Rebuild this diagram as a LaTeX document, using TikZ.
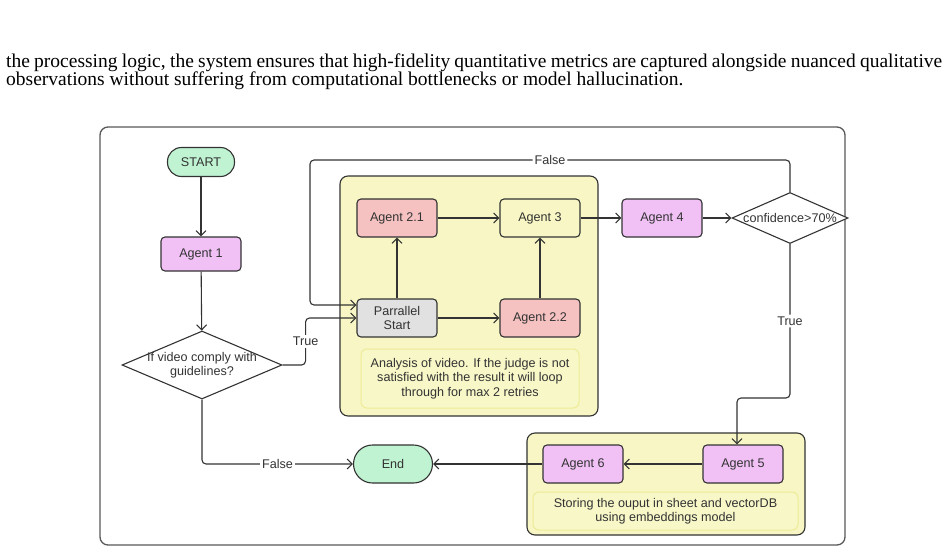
\documentclass[tikz,border=0pt]{standalone}
\usepackage{fontspec}
\setmainfont{Liberation Serif}
\newfontfamily\flowfont{Liberation Sans}
\usetikzlibrary{shapes.geometric,arrows.meta}
\definecolor{mint}{HTML}{BFF3D2}
\definecolor{lilac}{HTML}{F1C1F6}
\definecolor{rose}{HTML}{F5C1C1}
\definecolor{pale}{HTML}{F7F6C4}
\definecolor{notefill}{HTML}{F8F7C8}
\definecolor{noteline}{HTML}{EEEC96}
\definecolor{greybox}{HTML}{E1E1E1}
\definecolor{ink}{HTML}{333333}
\tikzset{
  flowtext/.style={font=\flowfont\fontsize{12.6}{14.5}\selectfont, text=ink, align=center},
  agent/.style={flowtext, draw=ink, line width=1.1pt, rounded corners=4pt, minimum width=80pt, minimum height=38pt, inner sep=0pt},
  term/.style={agent, fill=mint, rounded corners=14pt, minimum width=67pt, minimum height=29pt},
  decide/.style={draw=ink, line width=1.1pt, diamond, fill=white, inner sep=0pt},
  note/.style={flowtext, fill=notefill, draw=noteline, line width=1pt, rounded corners=6pt, inner sep=0pt},
  group/.style={draw=ink, line width=1.1pt, fill=pale, rounded corners=8pt},
  conn/.style={draw=ink, line width=1.1pt, rounded corners=4pt, -{Straight Barb[length=5pt,width=10pt]}},
  cond/.style={flowtext, fill=white, inner sep=2pt}
}

\begin{document}
\begin{tikzpicture}[x=1pt,y=-1pt]
    \useasboundingbox[fill=white] (0,0) rectangle (948,554);
    \node[anchor=north west, text width=936pt, align=justify, inner sep=0pt, font=\fontsize{19.5}{18}\selectfont] (intro) at (6,54) {\hyphenpenalty=10000\spaceskip=0.25em plus 0.1em minus 0.13em the processing logic, the system ensures that high-fidelity quantitative metrics are captured alongside nuanced qualitative\linebreak observations without suffering from computational bottlenecks or model hallucination.};

    % frame and the two groups
    \draw[draw=black!65, line width=1.3pt, rounded corners=8pt] (100,127) rectangle (845,545);
    \draw[group] (340,176) rectangle (598,416); \draw[group] (527,433) rectangle (805,535);

    \node[term] (start) at (201,162) {START};
    \node[agent, fill=lilac, minimum height=34pt] (a1) at (201,254) {Agent 1};
    \node[decide, minimum width=160pt, minimum height=68pt, label={[flowtext]center:If video comply with\\guidelines?}] (q1) at (202,365) {};

    \node[agent, fill=rose] (a21) at (397,218) {Agent 2.1};
    \node[agent, fill=pale] (a3) at (540,218) {Agent 3};
    \node[agent, fill=greybox] (ps) at (397,318) {Parrallel\\Start};
    \node[agent, fill=rose] (a22) at (540,318) {Agent 2.2};
    \node[note, minimum width=218pt, minimum height=59pt] (note1) at (470,378.5) {Analysis of video. If the judge is not\\satisfied with the result it will loop\\through for max 2 retries};

    \node[agent, fill=lilac] (a4) at (662,218) {Agent 4};
    \node[decide, minimum width=116pt, minimum height=51pt, label={[flowtext]center:confidence>70\%}] (q2) at (790,218) {};

    \node[agent, fill=lilac] (a5) at (743,464) {Agent 5};
    \node[agent, fill=lilac] (a6) at (583,464) {Agent 6};
    \node[note, minimum width=265pt, minimum height=38pt] (note2) at (665.5,511) {Storing the ouput in sheet and vectorDB\\using embeddings model};
    \node[term, minimum width=79pt, minimum height=38pt, rounded corners=19pt] (fin) at (393,464) {End};

    \coordinate (loopturn) at (310,160); \coordinate (truebend) at (790,398);

    % connectors
    \draw[conn] (start) -- (a1); \draw[conn] (a1) -- (q1);
    \draw[conn] (q1.east) -- ++(23,0) |- node[cond, pos=0.25] {True} (ps.west);
    \draw[conn] (q1.south) |- node[cond, pos=0.75] {False} (fin.west);
    \draw[conn] (ps) -- (a21); \draw[conn] (ps) -- (a22); \draw[conn] (a21) -- (a3); \draw[conn] (a22) -- (a3);
    \draw[conn] (a3) -- (a4); \draw[conn] (a4) -- (q2);
    \draw[conn] (q2.north) |- node[cond, pos=0.75] {False} (loopturn) |- ([yshift=13pt]ps.west);
    \draw[conn] (q2.south) -- node[cond] {True} (truebend) -| ([xshift=-6pt]a5.north);
    \draw[conn] (a5) -- (a6); \draw[conn] (a6) -- (fin);
\end{tikzpicture}
\end{document}
